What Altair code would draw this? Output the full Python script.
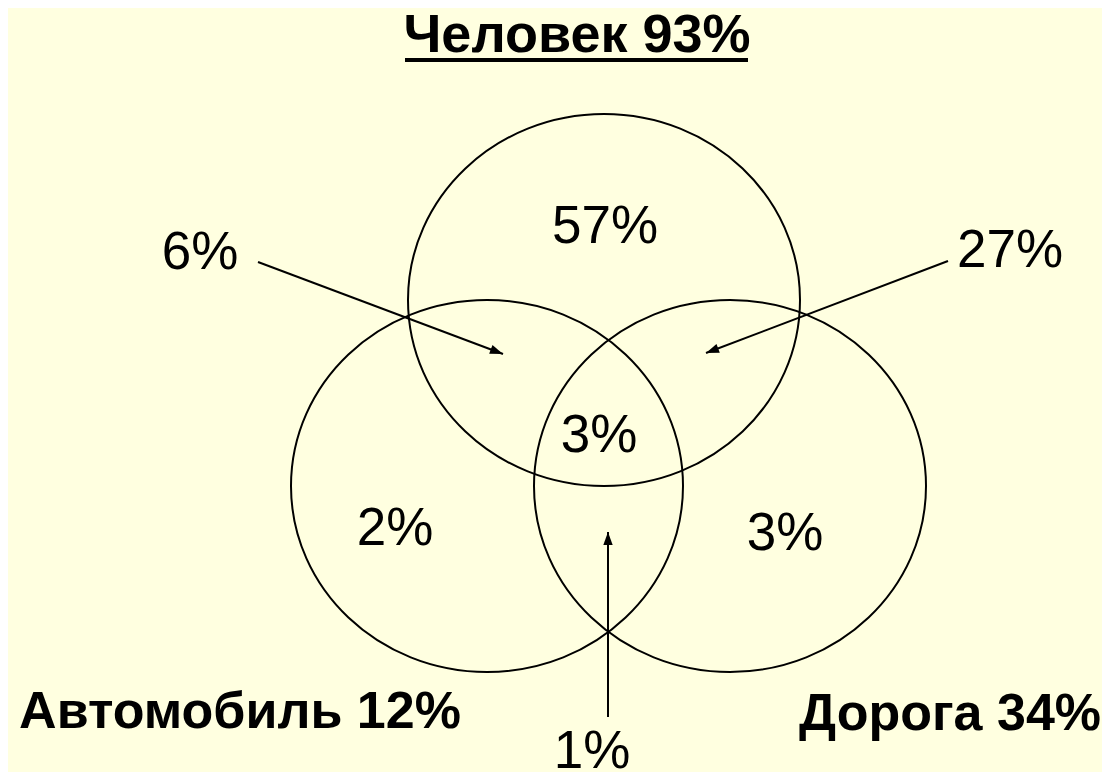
import altair as alt
import pandas as pd
import numpy as np

BG = "#FFFFE0"

# --- Venn sets (ellipse centres, in picture pixels) ---
set_names = ["Человек", "Автомобиль", "Дорога"]
set_cx = [604, 487, 730]
set_cy = [300, 486, 486]

# --- region percentages ---
region_labels = ["57%", "6%", "27%", "3%", "2%", "3%", "1%"]
region_x = [605, 200, 1010, 599, 395, 785, 592]
region_y = [243, 269, 267, 452, 545, 550, 768]

# --- title (the "Человек" set) ---
title_label = ["Человек 93%"]
title_x = [577]
title_y = [52]

# --- the other set names with totals ---
set_labels = ["Автомобиль 12%", "Дорога 34%"]
set_label_x = [240, 950]
set_label_y = [728, 730]

# --- arrows (tail -> tip) ---
arrow_x1 = [258, 948, 608]
arrow_y1 = [262, 261, 717]
arrow_x2 = [503, 706, 608]
arrow_y2 = [354, 353, 532]

# --- underline of the title ---
underline_x1 = [405]
underline_x2 = [748]
underline_y = [60]

W, H = 1094, 764
xs = alt.Scale(domain=[8, 8 + W], zero=False, nice=False)
ys = alt.Scale(domain=[8, 8 + H], zero=False, nice=False, reverse=True)

sets_df = pd.DataFrame({"name": set_names, "x": set_cx, "y": set_cy})
regions_df = pd.DataFrame({"label": region_labels, "x": region_x, "y": region_y})
title_df = pd.DataFrame({"label": title_label, "x": title_x, "y": title_y})
setlab_df = pd.DataFrame({"label": set_labels, "x": set_label_x, "y": set_label_y})
ang = np.degrees(np.arctan2(np.array(arrow_x2) - np.array(arrow_x1),
                            -(np.array(arrow_y2) - np.array(arrow_y1)))) % 360
arrows_df = pd.DataFrame({"x1": arrow_x1, "y1": arrow_y1, "x2": arrow_x2,
                          "y2": arrow_y2, "angle": ang})
under_df = pd.DataFrame({"x1": underline_x1, "x2": underline_x2, "y": underline_y})

ellipse_path = "M -1 0 A 1 0.949 0 1 1 1 0 A 1 0.949 0 1 1 -1 0 Z"

ellipses = alt.Chart(sets_df).mark_point(
    shape=ellipse_path, size=392 * 392, filled=False, stroke="black",
    strokeWidth=2, opacity=1
).encode(
    x=alt.X("x:Q", scale=xs, axis=None),
    y=alt.Y("y:Q", scale=ys, axis=None),
)

shafts = alt.Chart(arrows_df).mark_rule(color="black", strokeWidth=2).encode(
    x=alt.X("x1:Q", scale=xs, axis=None),
    y=alt.Y("y1:Q", scale=ys, axis=None),
    x2="x2:Q", y2="y2:Q",
)

heads = alt.Chart(arrows_df).mark_point(
    shape="M 0 0 L 0.36 1 L -0.36 1 Z", size=26 * 26, filled=True,
    fill="black", stroke=None, opacity=1
).encode(
    x=alt.X("x2:Q", scale=xs, axis=None),
    y=alt.Y("y2:Q", scale=ys, axis=None),
    angle=alt.Angle("angle:Q", scale=None),
)

region_text = alt.Chart(regions_df).mark_text(
    font="Liberation Sans", fontSize=53, color="black",
    align="center", baseline="alphabetic"
).encode(
    x=alt.X("x:Q", scale=xs, axis=None),
    y=alt.Y("y:Q", scale=ys, axis=None),
    text="label:N",
)

title_text = alt.Chart(title_df).mark_text(
    font="Liberation Sans", fontSize=54, fontWeight="bold", color="black",
    align="center", baseline="alphabetic"
).encode(
    x=alt.X("x:Q", scale=xs, axis=None),
    y=alt.Y("y:Q", scale=ys, axis=None),
    text="label:N",
)

set_text = alt.Chart(setlab_df).mark_text(
    font="Liberation Sans", fontSize=52, fontWeight="bold", color="black",
    align="center", baseline="alphabetic"
).encode(
    x=alt.X("x:Q", scale=xs, axis=None),
    y=alt.Y("y:Q", scale=ys, axis=None),
    text="label:N",
)

underline = alt.Chart(under_df).mark_rule(color="black", strokeWidth=4, strokeCap="butt").encode(
    x=alt.X("x1:Q", scale=xs, axis=None),
    x2="x2:Q",
    y=alt.Y("y:Q", scale=ys, axis=None),
)

chart = alt.layer(ellipses, shafts, heads, region_text, title_text, set_text, underline).properties(
    width=W, height=H, padding=0, autosize=alt.AutoSizeParams(type="none"),
    background=BG
).configure_view(stroke=None)

chart.save("out.html", embed_options={"renderer": "svg", "actions": False})
